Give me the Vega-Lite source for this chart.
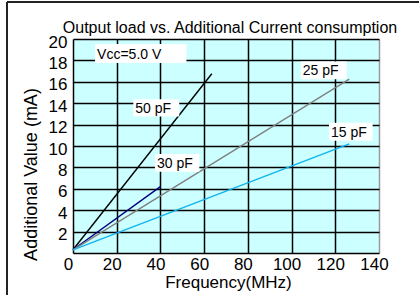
{
  "$schema": "https://vega.github.io/schema/vega-lite/v6.json",
  "width": 306,
  "height": 214,
  "autosize": {"type": "none"},
  "padding": {"left": 73, "top": 39, "right": 40, "bottom": 42},
  "background": "white",
  "title": {"text": "Output load vs. Additional Current consumption", "font": "Liberation Sans", "fontSize": 16, "fontWeight": "normal", "color": "black", "anchor": "middle", "offset": 0, "dx": 4, "dy": 35},
  "config": {
    "view": {"fill": "#CCFFFF", "stroke": null},
    "axis": {"labelFont": "Liberation Sans", "titleFont": "Liberation Sans", "labelColor": "black", "titleColor": "black", "titleFontWeight": "normal", "ticks": false, "domain": false, "gridColor": "black", "gridWidth": 1.5, "gridOpacity": 1, "labelOverlap": false}
  },
  "datasets": {
    "frame": [
      {"x": -30.2, "x2": -30.2, "y": -4, "y2": 23.45},
      {"x": -30.2, "x2": 158.5, "y": 23.45, "y2": 23.45}
    ],
    "lines": [
      {"load": "50 pF", "f": 0, "v": 0.3}, {"load": "50 pF", "f": 63.5, "v": 16.75},
      {"load": "30 pF", "f": 0, "v": 0.3}, {"load": "30 pF", "f": 40, "v": 6.2},
      {"load": "25 pF", "f": 0, "v": 0.3}, {"load": "25 pF", "f": 126.4, "v": 16.25},
      {"load": "15 pF", "f": 0, "v": 0.3}, {"load": "15 pF", "f": 126.4, "v": 10.2}
    ],
    "labels": [
      {"text": "Vᴄᴄ=5.0 V", "x": 10.1, "x2": 51.9, "y": 17.75, "y2": 19.53},
      {"text": "50 pF", "x": 27.6, "x2": 48.6, "y": 12.75, "y2": 14.38},
      {"text": "30 pF", "x": 37.5, "x2": 57.8, "y": 7.59, "y2": 9.25},
      {"text": "25 pF", "x": 104.2, "x2": 125.2, "y": 16.25, "y2": 17.9},
      {"text": "15 pF", "x": 117.1, "x2": 137.1, "y": 10.5, "y2": 12.18}
    ]
  },
  "layer": [
    {
      "data": {"name": "lines"},
      "mark": {"type": "line", "strokeWidth": 1.4},
      "encoding": {
        "x": {"field": "f", "type": "quantitative", "scale": {"domain": [0, 140], "nice": false, "zero": false},
          "axis": {"values": [0, 20, 40, 60, 80, 100, 120, 140], "tickCount": 20, "labelFontSize": 17, "labelPadding": 3, "labelOffset": -5, "labelFlush": false, "labelOverlap": false,
            "gridColor": {"condition": {"test": "datum.value === 140", "value": "#9a9a9a"}, "value": "black"},
            "title": "Frequency(MHz)", "titleFontSize": 17, "titleBaseline": "alphabetic", "titleY": 34, "titleX": 155, "titleAnchor": null}},
        "y": {"field": "v", "type": "quantitative", "scale": {"domain": [0, 20], "nice": false, "zero": false},
          "axis": {"values": [0, 2, 4, 6, 8, 10, 12, 14, 16, 18, 20], "tickCount": 20, "labelExpr": "datum.value === 0 ? '' : datum.label", "labelFontSize": 17, "labelPadding": 6, "labelOffset": 3, "labelOverlap": false, "labelFlush": false,
            "title": "Additional Value (mA)", "titleFontSize": 18, "titleAngle": -90, "titleBaseline": "middle", "titleAlign": "center", "titleX": -42, "titleY": 135}},
        "color": {"field": "load", "type": "nominal", "legend": null,
          "scale": {"domain": ["50 pF", "30 pF", "25 pF", "15 pF"], "range": ["#000000", "#000080", "#808080", "#10B4F0"]}},
        "detail": {"field": "load"}
      }
    },
    {
      "data": {"name": "frame"},
      "mark": {"type": "rule", "color": "#222222", "strokeWidth": 2, "clip": false},
      "encoding": {
        "x": {"field": "x", "type": "quantitative"},
        "x2": {"field": "x2"},
        "y": {"field": "y", "type": "quantitative"},
        "y2": {"field": "y2"}
      }
    },
    {
      "data": {"name": "labels"},
      "mark": {"type": "rect", "fill": "white", "stroke": null},
      "encoding": {
        "x": {"field": "x", "type": "quantitative"},
        "x2": {"field": "x2"},
        "y": {"field": "y", "type": "quantitative"},
        "y2": {"field": "y2"}
      }
    },
    {
      "data": {"name": "labels"},
      "transform": [{"calculate": "(datum.y + datum.y2) / 2", "as": "ym"}],
      "mark": {"type": "text", "align": "left", "baseline": "middle", "dx": 2, "dy": 1, "font": "Liberation Sans", "fontSize": 14, "color": "black"},
      "encoding": {
        "x": {"field": "x", "type": "quantitative"},
        "y": {"field": "ym", "type": "quantitative"},
        "text": {"field": "text"}
      }
    }
  ]
}
